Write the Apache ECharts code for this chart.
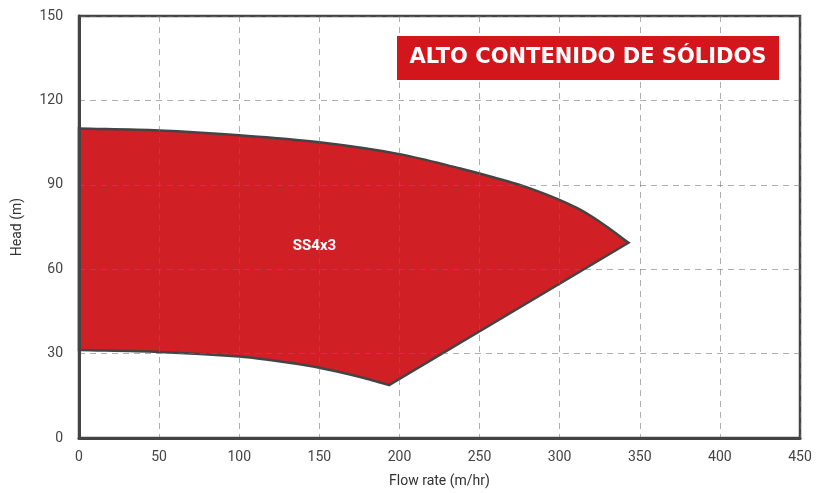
<!DOCTYPE html>
<html>
<head>
<meta charset="utf-8">
<script src="https://cdn.jsdelivr.net/npm/echarts@6/dist/echarts.min.js"></script>
<style>
html,body{margin:0;padding:0;background:#fff;overflow:hidden;}
#c{width:827px;height:493px;}
</style>
</head>
<body>
<div id="c"></div>
<script>
// Upper curve of the operating envelope (flow m/hr, head m)
var topFlow = [0, 50, 100, 150, 200, 238, 259, 277, 298, 311, 321, 331.4, 343];
var topHead = [110, 109.3, 107.6, 105.1, 100.9, 95.8, 92.6, 89.6, 85.1, 81.7, 78.4, 74.3, 69.4];
// Lower curve of the envelope
var bottomFlow = [0, 50, 100, 119, 147, 171, 182, 193.5];
var bottomHead = [31.3, 30.6, 29.0, 27.7, 25.3, 22.3, 20.7, 18.8];
// Series label
var seriesName = 'SS4x3';
var labelPos = [147, 68];
var titleText = 'ALTO CONTENIDO DE SÓLIDOS';
var xTicks = [0, 50, 100, 150, 200, 250, 300, 350, 400, 450];
var yTicks = [0, 30, 60, 90, 120, 150];

// smooth curve through points: tangent direction from neighbours, handle = 1/3 of segment length
function tangent(pts, i) {
  var a = pts[Math.max(i - 1, 0)], b = pts[Math.min(i + 1, pts.length - 1)];
  var dx = b[0] - a[0], dy = b[1] - a[1], l = Math.sqrt(dx * dx + dy * dy) || 1;
  return [dx / l, dy / l];
}
function smoothPath(pts) {
  var d = '';
  for (var i = 0; i < pts.length - 1; i++) {
    var p1 = pts[i], p2 = pts[i + 1];
    var sx = p2[0] - p1[0], sy = p2[1] - p1[1], len = Math.sqrt(sx * sx + sy * sy) / 3;
    var t1 = tangent(pts, i), t2 = tangent(pts, i + 1);
    d += ' C' + (p1[0] + t1[0] * len) + ' ' + (p1[1] + t1[1] * len) + ' ' +
      (p2[0] - t2[0] * len) + ' ' + (p2[1] - t2[1] * len) + ' ' + p2[0] + ' ' + p2[1];
  }
  return d;
}

var chart = echarts.init(document.getElementById('c'));
var gridLine = {show: true, lineStyle: {color: 'rgba(110,110,110,0.55)', type: [6, 5], width: 1}};
chart.setOption({
  animation: false,
  graphic: [
    {type: 'rect', z: 10, shape: {x: 397, y: 36, width: 382, height: 44}, style: {fill: '#d3161b'}},
    {type: 'text', z: 11, x: 588, y: 58, style: {text: titleText, fill: '#fff', font: 'bold 21px "DejaVu Sans"', align: 'center', verticalAlign: 'middle'}}
  ],
  grid: {left: 79, right: 27, top: 16, bottom: 52, show: true, borderColor: '#444', borderWidth: 2.5, z: 3},
  xAxis: {
    type: 'value', min: 0, max: 450, interval: 50, z: 3,
    name: 'Flow rate (m/hr)', nameLocation: 'middle', nameGap: 36,
    nameTextStyle: {color: '#333', fontSize: 14, fontFamily: 'Roboto'},
    axisLine: {show: true, lineStyle: {color: '#444', width: 3}},
    axisTick: {show: false},
    axisLabel: {color: '#444', fontSize: 14, fontFamily: 'Roboto', margin: 12,
      formatter: function (v) { return xTicks.indexOf(v) >= 0 ? String(v) : ''; }},
    splitLine: gridLine
  },
  yAxis: {
    type: 'value', min: 0, max: 150, interval: 30, z: 3,
    name: 'Head (m)', nameLocation: 'middle', nameGap: 55, nameRotate: 90,
    nameTextStyle: {color: '#333', fontSize: 14, fontFamily: 'Roboto'},
    axisLine: {show: true, lineStyle: {color: '#444', width: 3}},
    axisTick: {show: false},
    axisLabel: {color: '#444', fontSize: 14, fontFamily: 'Roboto', margin: 16,
      formatter: function (v) { return yTicks.indexOf(v) >= 0 ? String(v) : ''; }},
    splitLine: gridLine
  },
  series: [
    {
      type: 'custom',
      z: 2,
      data: [[0, 0]],
      renderItem: function (params, api) {
        var top = topFlow.map(function (f, i) { return api.coord([f, topHead[i]]); });
        var bot = bottomFlow.map(function (f, i) { return api.coord([f, bottomHead[i]]); }).reverse();
        var d = 'M' + top[0][0] + ' ' + top[0][1] + smoothPath(top) +
          ' L' + bot[0][0] + ' ' + bot[0][1] + smoothPath(bot) + ' Z';
        return {
          type: 'path',
          shape: {pathData: d},
          style: {fill: '#d11f26', stroke: '#444', lineWidth: 2.5, lineJoin: 'miter'}
        };
      }
    },
    {
      type: 'scatter',
      z: 5,
      symbolSize: 0,
      itemStyle: {opacity: 1},
      data: [{name: seriesName, value: labelPos}],
      label: {show: true, position: 'inside', formatter: '{b}', color: '#fff',
        fontFamily: 'Roboto', fontWeight: 'bold', fontSize: 15}
    }
  ]
});
</script>
</body>
</html>
